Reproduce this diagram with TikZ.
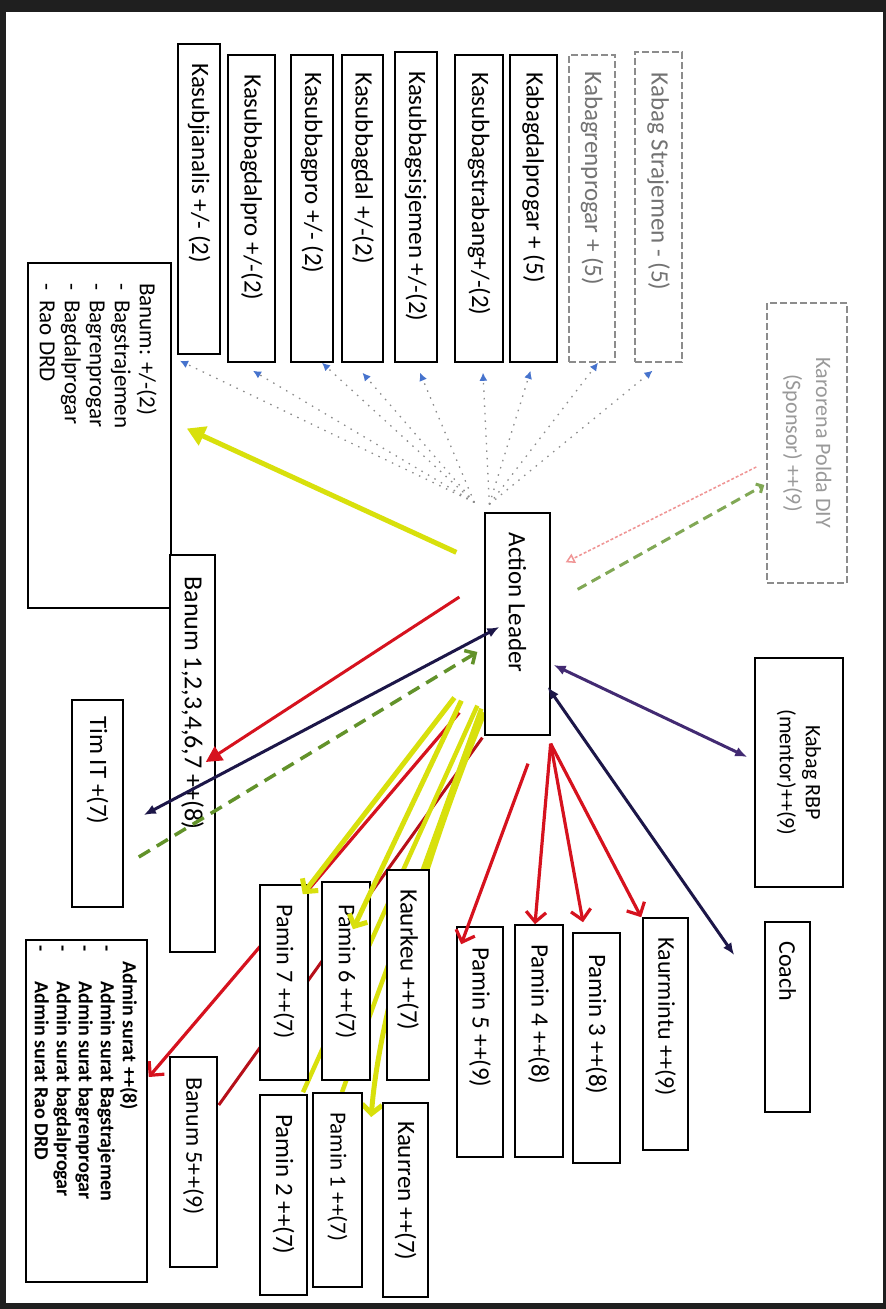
\documentclass[tikz,border=0pt]{standalone}
\usepackage{fontspec}
\setmainfont{Carlito}
\usetikzlibrary{arrows.meta,fit,calc}
\pgfdeclarelayer{bgzero}
\pgfdeclarelayer{bgone}
\pgfsetlayers{bgzero,bgone,main}
\definecolor{yel}{RGB}{216,224,12}
\definecolor{rd}{RGB}{214,18,30}
\definecolor{nv}{RGB}{28,22,72}
\definecolor{pu}{RGB}{66,42,114}
\definecolor{gr}{RGB}{98,146,42}
\definecolor{frd}{RGB}{240,150,150}
\definecolor{bl}{RGB}{70,115,205}
\begin{document}
\begin{tikzpicture}[x=1pt,y=-1pt,
  bx/.style={draw=black, line width=1.6pt, fill=white, inner sep=0pt},
  fbx/.style={draw=black!45, dash pattern=on 7pt off 3pt, line width=1.4pt, fill=white, inner sep=0pt},
  lbl/.style={rotate=-90, inner sep=0pt, font=\fontsize{25}{30}\selectfont},
  flbl/.style={lbl, text=black!55},
  lst/.style={rotate=-90, inner sep=0pt, align=left},
  dotarr/.style={draw=black!45, line width=1.3pt, dash pattern=on 1.5pt off 6pt, -{Latex[length=8pt,width=8pt,color=bl]}},
  yarr/.style={draw=yel, line width=5pt, -{Straight Barb[length=9pt,width=20pt]}},
  ytri/.style={draw=yel, line width=5pt, -{Triangle[length=18pt,width=20pt]}},
  yline/.style={draw=yel, line width=4.5pt},
  rarr/.style={draw=rd, line width=3.2pt, -{Straight Barb[length=10pt,width=20pt]}},
  rtri/.style={draw=rd, line width=3pt, -{Triangle[length=16pt,width=16pt]}},
  rline/.style={draw=rd!85!black, line width=3pt},
  navarr/.style={draw=nv, line width=3pt, >={Latex[length=12pt,width=10pt]}, <->},
  puarr/.style={draw=pu, line width=3pt, >={Latex[length=12pt,width=10pt]}, <->},
  grarr/.style={draw=gr, line width=3.5pt, dash pattern=on 13pt off 8pt, -{Straight Barb[length=8pt,width=16pt]}},
  grarr2/.style={draw=gr!80, line width=3pt, dash pattern=on 10pt off 6pt, -{Straight Barb[length=5pt,width=10pt]}},
  fredarr/.style={draw=frd, line width=1.5pt, dash pattern=on 3pt off 2pt, -{Triangle[open,length=9pt,width=10pt]}}
]
\begin{pgfonlayer}{bgzero}
\fill[black!88] (0,0) rectangle (886,1309);
\fill[white] (6,12) rectangle (883,1303);
\end{pgfonlayer}
\useasboundingbox (0,0) rectangle (886,1309);

% ---------- top row ----------
\node[bx, fit={(178,44) (220,354)}] (k1) {};
\node[lbl, anchor=west] (k1t) at ([yshift=-20pt]k1.north) {Kasubjianalis +/- (2)};
\node[bx, fit={(228,55) (275,362)}] (k2) {};
\node[lbl, anchor=west] (k2t) at ([yshift=-20pt]k2.north) {Kasubbagdalpro +/-(2)};
\node[bx, fit={(291,55) (333,362)}] (k3) {};
\node[lbl, anchor=west] (k3t) at ([yshift=-18pt]k3.north) {Kasubbagpro +/- (2)};
\node[bx, fit={(342,55) (383,362)}] (k4) {};
\node[lbl, anchor=west] (k4t) at ([yshift=-18pt]k4.north) {Kasubbagdal +/-(2)};
\node[bx, fit={(395,52) (437,362)}] (k5) {};
\node[lbl, anchor=west] (k5t) at ([yshift=-20pt]k5.north) {Kasubbagsisjemen +/-(2)};
\node[bx, fit={(455,55) (503,362)}] (k6) {};
\node[lbl, anchor=west] (k6t) at ([yshift=-18pt]k6.north) {Kasubbagstrabang+/-(2)};
\node[bx, fit={(510,55) (557,362)}] (k7) {};
\node[lbl, anchor=west] (k7t) at ([yshift=-18pt]k7.north) {Kabagdalprogar + (5)};
\node[fbx, fit={(569,55) (615,362)}] (k8) {};
\node[flbl, anchor=west] (k8t) at ([yshift=-17pt]k8.north) {Kabagrenprogar + (5)};
\node[fbx, fit={(635,52) (682,362)}] (k9) {};
\node[flbl, anchor=west] (k9t) at ([yshift=-21pt]k9.north) {Kabag Strajemen - (5)};

% ---------- sponsor ----------
\node[fbx, fit={(767,303) (847,583)}] (kr) {};
\node[flbl, text=black!40, align=center, font=\fontsize{22}{30}\selectfont] (krt) at (kr.center) {Karorena Polda DIY\\(Sponsor) ++(9)};

% ---------- action leader ----------
\node[bx, line width=1.3pt, fit={(485,513) (550,735)}] (al) {};
\node[lbl, anchor=west] (alt) at ([yshift=-20pt]al.north) {Action Leader};

% ---------- left side ----------
\node[bx, fit={(28,263) (171,608)}] (bpm) {};
\node[lst, font=\fontsize{23}{25}\selectfont, anchor=north west] (bpmt) at (157,283)
  {Banum: +/-(2)\\\makebox[17pt][l]{-}Bagstrajemen\\\makebox[17pt][l]{-}Bagrenprogar\\\makebox[17pt][l]{-}Bagdalprogar\\\makebox[17pt][l]{-}Rao DRD};
\node[bx, fit={(170,555) (215,952)}] (b18) {};
\node[lbl, anchor=west, font=\fontsize{26}{30}\selectfont] (b18t) at ([yshift=-22pt]b18.north) {Banum 1,2,3,4,6,7 ++(8)};
\node[bx, fit={(72,700) (123,907)}] (tim) {};
\node[lbl, anchor=west] (timt) at ([yshift=-17pt]tim.north) {Tim IT +(7)};
\node[bx, fit={(26,940) (147,1282)}] (adm) {};
\node[lst, font=\bfseries\fontsize{20}{22}\selectfont, anchor=north west] (admt) at (138,945)
  {\hspace*{16pt}Admin surat ++(8)\\\makebox[36pt][l]{-}Admin surat Bagstrajemen\\\makebox[36pt][l]{-}Admin surat bagrenprogar\\\makebox[36pt][l]{-}Admin surat bagdalprogar\\\makebox[36pt][l]{-}Admin surat Rao DRD};
\node[bx, fit={(170,1057) (217,1267)}] (b5) {};
\node[lbl, anchor=west, font=\fontsize{24}{30}\selectfont] (b5t) at ([yshift=-21pt]b5.north) {Banum 5++(9)};

% ---------- lower middle ----------
\node[bx, fit={(260,885) (308,1080)}] (p7) {};
\node[lbl, anchor=west, font=\fontsize{24}{30}\selectfont] (p7t) at ([yshift=-20pt]p7.north) {Pamin 7 ++(7)};
\node[bx, fit={(322,882) (370,1080)}] (p6) {};
\node[lbl, anchor=west, font=\fontsize{24}{30}\selectfont] (p6t) at ([yshift=-23pt]p6.north) {Pamin 6 ++(7)};
\node[bx, fit={(387,870) (429,1080)}] (kk) {};
\node[lbl, anchor=west] (kkt) at ([yshift=-20pt]kk.north) {Kaurkeu ++(7)};
\node[bx, fit={(260,1095) (307,1295)}] (p2) {};
\node[lbl, anchor=west] (p2t) at ([yshift=-20pt]p2.north) {Pamin 2 ++(7)};
\node[bx, fit={(313,1093) (362,1287)}] (p1) {};
\node[lbl, anchor=west, font=\fontsize{23}{30}\selectfont] (p1t) at ([yshift=-20pt]p1.north) {Pamin 1 ++(7)};
\node[bx, fit={(383,1103) (428,1297)}] (kren) {};
\node[lbl, anchor=west] (krent) at ([yshift=-19pt]kren.north) {Kaurren ++(7)};

% ---------- lower right ----------
\node[bx, fit={(457,927) (503,1157)}] (p5) {};
\node[lbl, anchor=west] (p5t) at ([yshift=-21pt]p5.north) {Pamin 5 ++(9)};
\node[bx, fit={(515,925) (563,1157)}] (p4) {};
\node[lbl, anchor=west] (p4t) at ([yshift=-20pt]p4.north) {Pamin 4 ++(8)};
\node[bx, fit={(573,933) (620,1163)}] (p3) {};
\node[lbl, anchor=west] (p3t) at ([yshift=-22pt]p3.north) {Pamin 3 ++(8)};
\node[bx, fit={(643,918) (688,1150)}] (kmt) {};
\node[lbl, anchor=west, font=\fontsize{24}{30}\selectfont] (kmtt) at ([yshift=-20pt]kmt.north) {Kaurmintu ++(9)};
\node[bx, fit={(765,922) (810,1112)}] (coach) {};
\node[lbl, anchor=west, font=\fontsize{24}{30}\selectfont] (coacht) at ([yshift=-20pt]coach.north) {Coach};
\node[bx, fit={(755,658) (843,887)}] (rbp) {};
\node[lbl, align=center, font=\fontsize{22}{26}\selectfont] (rbpt) at (rbp.center) {Kabag RBP\\(mentor)++(9)};

% ---------- connectors behind boxes ----------
\begin{pgfonlayer}{bgone}
\draw[rarr] ($(al.south west)+(-25,-23)$) -- ($(adm.east)+(1,-34)$);
\draw[rline] ($(al.south west)+(-2,2)$) -- ($(b5.east)+(1,-57)$);
\draw[yline] ($(al.south west)+(-7,-30)$) -- ($(p2.north)+(19.5,-2)$);
\draw[yline] ($(al.south west)+(-3,-27)$) -- ($(p1.north)+(4.5,0)$);
\draw[yarr] ($(al.south west)+(0,-23)$) .. controls (440,820) and (380,1000) .. ($(kren.west)+(-11,-83)$);
\end{pgfonlayer}

% ---------- dotted links to the top row ----------
\coordinate (dA) at ($(al.north west)+(-10,-10)$);
\coordinate (dB) at ($(al.north west)+(5,-8)$);
\draw[dotarr] (dA) -- ($(k1.south)+(-19,6)$);
\draw[dotarr] (dA) -- ($(k2.south)+(1.5,8)$);
\draw[dotarr] (dA) -- ($(k3.south)+(10,0)$);
\draw[dotarr] (dA) -- ($(k4.south)+(0,10)$);
\draw[dotarr] (dA) -- ($(k5.south)+(4,10)$);
\draw[dotarr] (dB) -- ($(k6.south)+(4,10)$);
\draw[dotarr] (dB) -- ($(k7.south)+(-3,8)$);
\draw[dotarr] (dB) -- ($(k8.south)+(6,0)$);
\draw[dotarr] (dB) -- ($(k9.south)+(-6,8)$);

% ---------- sponsor links ----------
\draw[fredarr] ($(kr.west)+(-10,24)$) -- ($(al.north east)+(15,50)$);
\draw[grarr2] ($(al.north east)+(27,77)$) -- ($(kr.west)+(-2,42)$);

% ---------- left links ----------
\draw[ytri] ($(al.north west)+(-28,40)$) -- ($(bpm.east)+(15,-7)$);
\draw[rtri] ($(al.west)+(-25,-27)$) -- ($(b18.east)+(-10,8.5)$);
\draw[navarr] ($(tim.east)+(20,11.5)$) -- ($(al.west)+(15,3)$);
\draw[grarr] ($(tim.east)+(15,53.5)$) -- ($(al.west)+(-7,28)$);

% ---------- yellow links on top ----------
\draw[yarr] ($(al.south west)+(-30,-38)$) -- ($(p7.north east)+(-6,10)$);
\draw[yarr] ($(al.south west)+(-23,-35)$) -- ($(p6.north)+(7,48)$);

% ---------- right links ----------
\draw[puarr] ($(al.east)+(3,41)$) -- ($(rbp.west)+(-7,-15.5)$);
\draw[navarr] ($(al.east)+(-3,63)$) -- ($(coach.west)+(-30,-62)$);
\draw[rarr] ($(al.south east)+(0,8)$) -- ($(kmt.north west)+(-1,0)$);
\draw[rarr] ($(al.south east)+(0,8)$) -- ($(p3.north)+(-13.5,-10)$);
\draw[rarr] ($(al.south east)+(0,8)$) -- ($(p4.north)+(-4,0)$);
\draw[rarr] ($(al.south)+(10.5,28)$) -- ($(p5.north west)+(5,18)$);
\end{tikzpicture}
\end{document}
